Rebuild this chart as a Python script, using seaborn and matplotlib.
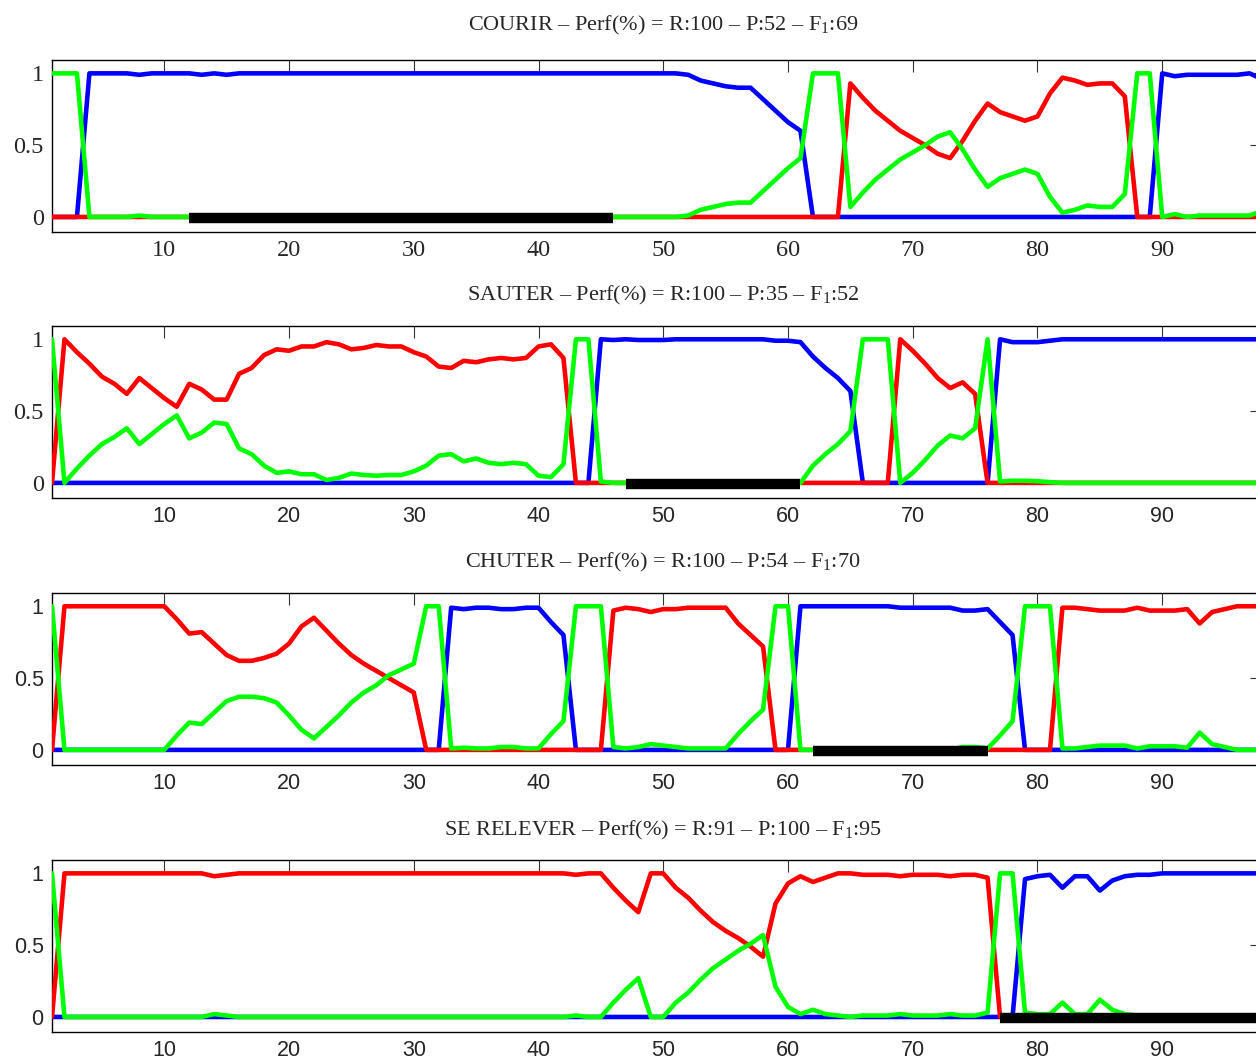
import numpy as np
import matplotlib
matplotlib.use("Agg")
import matplotlib.pyplot as plt
import seaborn as sns

frames = np.arange(1, 99)

titles = [
    "COURIR \u2013 Perf(%) = R:100 \u2013 P:52 \u2013 F$_1$:69",
    "SAUTER \u2013 Perf(%) = R:100 \u2013 P:35 \u2013 F$_1$:52",
    "CHUTER \u2013 Perf(%) = R:100 \u2013 P:54 \u2013 F$_1$:70",
    "SE RELEVER \u2013 Perf(%) = R:91 \u2013 P:100 \u2013 F$_1$:95",
]

# ground-truth segments (black bars)
bar_start = [12, 47, 62, 77]
bar_end = [46, 61, 76, 98]

# --- COURIR
blue_courir = [
    0, 0, 0, 1, 1, 1, 1, 0.99, 1, 1,
    1, 1, 0.99, 1, 0.99, 1, 1, 1, 1, 1,
    1, 1, 1, 1, 1, 1, 1, 1, 1, 1,
    1, 1, 1, 1, 1, 1, 1, 1, 1, 1,
    1, 1, 1, 1, 1, 1, 1, 1, 1, 1,
    1, 0.99, 0.95, 0.93, 0.91, 0.90, 0.90, 0.82, 0.74, 0.66,
    0.60, 0, 0, 0, 0, 0, 0, 0, 0, 0,
    0, 0, 0, 0, 0, 0, 0, 0, 0, 0,
    0, 0, 0, 0, 0, 0, 0, 0, 0, 1.0,
    0.98, 0.99, 0.99, 0.99, 0.99, 0.99, 1.0, 0.96,
]
red_courir = [
    0, 0, 0, 0, 0, 0, 0, 0, 0, 0,
    0, 0, 0, 0, 0, 0, 0, 0, 0, 0,
    0, 0, 0, 0, 0, 0, 0, 0, 0, 0,
    0, 0, 0, 0, 0, 0, 0, 0, 0, 0,
    0, 0, 0, 0, 0, 0, 0, 0, 0, 0,
    0, 0, 0, 0, 0, 0, 0, 0, 0, 0,
    0, 0, 0, 0, 0.93, 0.83, 0.74, 0.67, 0.60, 0.55,
    0.50, 0.44, 0.41, 0.53, 0.67, 0.79, 0.73, 0.70, 0.67, 0.70,
    0.86, 0.97, 0.95, 0.92, 0.93, 0.93, 0.84, 0, 0, 0,
    0, 0, 0, 0, 0, 0, 0, 0,
]
green_courir = [
    1, 1, 1, 0, 0, 0, 0, 0.01, 0, 0,
    0, 0, 0.01, 0, 0.01, 0, 0, 0, 0, 0,
    0, 0, 0, 0, 0, 0, 0, 0, 0, 0,
    0, 0, 0, 0, 0, 0, 0, 0, 0, 0,
    0, 0, 0, 0, 0, 0, 0, 0, 0, 0,
    0, 0.01, 0.05, 0.07, 0.09, 0.10, 0.10, 0.18, 0.26, 0.34,
    0.41, 1, 1, 1, 0.07, 0.17, 0.26, 0.33, 0.40, 0.45,
    0.50, 0.56, 0.59, 0.47, 0.33, 0.21, 0.27, 0.30, 0.33, 0.30,
    0.14, 0.03, 0.05, 0.08, 0.07, 0.07, 0.16, 1, 1, 0,
    0.02, 0, 0.01, 0.01, 0.01, 0.01, 0.01, 0.04,
]

# --- SAUTER
blue_sauter = [
    0, 0, 0, 0, 0, 0, 0, 0, 0, 0,
    0, 0, 0, 0, 0, 0, 0, 0, 0, 0,
    0, 0, 0, 0, 0, 0, 0, 0, 0, 0,
    0, 0, 0, 0, 0, 0, 0, 0, 0, 0,
    0, 0, 0, 0, 1.0, 0.995, 1.0, 0.995, 0.995, 0.995,
    1, 1, 1, 1, 1, 1, 1, 1, 0.99, 0.99,
    0.98, 0.88, 0.80, 0.73, 0.64, 0, 0, 0, 0, 0,
    0, 0, 0, 0, 0, 0, 1.0, 0.98, 0.98, 0.98,
    0.99, 1, 1, 1, 1, 1, 1, 1, 1, 1,
    1, 1, 1, 1, 1, 1, 1, 1,
]
red_sauter = [
    0, 1.0, 0.91, 0.83, 0.74, 0.69, 0.62, 0.73, 0.66, 0.59,
    0.53, 0.69, 0.65, 0.58, 0.58, 0.76, 0.80, 0.89, 0.93, 0.92,
    0.95, 0.95, 0.98, 0.965, 0.93, 0.94, 0.96, 0.95, 0.95, 0.91,
    0.88, 0.81, 0.80, 0.85, 0.84, 0.86, 0.87, 0.86, 0.87, 0.95,
    0.965, 0.87, 0, 0, 0, 0, 0, 0, 0, 0,
    0, 0, 0, 0, 0, 0, 0, 0, 0, 0,
    0, 0, 0, 0, 0, 0, 0, 0, 1.0, 0.92,
    0.83, 0.73, 0.66, 0.70, 0.62, 0, 0, 0, 0, 0,
    0, 0, 0, 0, 0, 0, 0, 0, 0, 0,
    0, 0, 0, 0, 0, 0, 0, 0,
]
green_sauter = [
    1.0, 0, 0.10, 0.19, 0.27, 0.32, 0.38, 0.27, 0.34, 0.41,
    0.47, 0.31, 0.35, 0.42, 0.41, 0.24, 0.20, 0.12, 0.07, 0.08,
    0.06, 0.06, 0.02, 0.035, 0.065, 0.055, 0.05, 0.055, 0.055, 0.08,
    0.12, 0.19, 0.20, 0.15, 0.17, 0.14, 0.13, 0.14, 0.13, 0.05,
    0.04, 0.13, 1.0, 1.0, 0.01, 0, 0, 0, 0, 0,
    0, 0, 0, 0, 0, 0, 0, 0, 0, 0,
    0, 0.12, 0.20, 0.27, 0.36, 1.0, 1.0, 1.0, 0, 0.07,
    0.16, 0.26, 0.33, 0.31, 0.38, 1.0, 0.01, 0.015, 0.015, 0.012,
    0.005, 0, 0, 0, 0, 0, 0, 0, 0, 0,
    0, 0, 0, 0, 0, 0, 0, 0,
]

# --- CHUTER
blue_chuter = [
    0, 0, 0, 0, 0, 0, 0, 0, 0, 0,
    0, 0, 0, 0, 0, 0, 0, 0, 0, 0,
    0, 0, 0, 0, 0, 0, 0, 0, 0, 0,
    0, 0, 0.99, 0.98, 0.99, 0.99, 0.98, 0.98, 0.99, 0.99,
    0.89, 0.80, 0, 0, 0, 0, 0, 0, 0, 0,
    0, 0, 0, 0, 0, 0, 0, 0, 0, 0,
    1, 1, 1, 1, 1, 1, 1, 1, 0.99, 0.99,
    0.99, 0.99, 0.99, 0.97, 0.97, 0.98, 0.89, 0.80, 0, 0,
    0, 0, 0, 0, 0, 0, 0, 0, 0, 0,
    0, 0, 0, 0, 0, 0, 0, 0,
]
red_chuter = [
    0, 1, 1, 1, 1, 1, 1, 1, 1, 1,
    0.91, 0.81, 0.82, 0.74, 0.66, 0.62, 0.62, 0.64, 0.67, 0.74,
    0.86, 0.92, 0.83, 0.74, 0.66, 0.60, 0.55, 0.50, 0.45, 0.40,
    0, 0, 0, 0, 0, 0, 0, 0, 0, 0,
    0, 0, 0, 0, 0, 0.97, 0.99, 0.98, 0.96, 0.98,
    0.98, 0.99, 0.99, 0.99, 0.99, 0.88, 0.80, 0.72, 0, 0,
    0, 0, 0, 0, 0, 0, 0, 0, 0, 0,
    0, 0, 0, 0, 0, 0, 0, 0, 0, 0,
    0, 0.99, 0.99, 0.98, 0.97, 0.97, 0.97, 0.99, 0.97, 0.97,
    0.97, 0.98, 0.88, 0.96, 0.98, 1, 1, 1,
]
green_chuter = [
    1, 0, 0, 0, 0, 0, 0, 0, 0, 0,
    0.10, 0.19, 0.18, 0.26, 0.34, 0.37, 0.37, 0.36, 0.33, 0.24,
    0.14, 0.08, 0.16, 0.24, 0.33, 0.40, 0.45, 0.52, 0.56, 0.60,
    1, 1, 0.01, 0.015, 0.01, 0.01, 0.02, 0.02, 0.01, 0.01,
    0.11, 0.20, 1, 1, 1, 0.02, 0.01, 0.02, 0.04, 0.03,
    0.02, 0.01, 0.01, 0.01, 0.01, 0.11, 0.20, 0.28, 1, 1,
    0, 0, 0, 0, 0, 0, 0, 0, 0, 0,
    0, 0, 0, 0.02, 0.02, 0.01, 0.10, 0.20, 1, 1,
    1, 0.01, 0.01, 0.02, 0.03, 0.03, 0.03, 0.01, 0.025, 0.025,
    0.025, 0.015, 0.12, 0.04, 0.02, 0, 0, 0,
]

# --- SE RELEVER
blue_relever = [
    0, 0, 0, 0, 0, 0, 0, 0, 0, 0,
    0, 0, 0, 0, 0, 0, 0, 0, 0, 0,
    0, 0, 0, 0, 0, 0, 0, 0, 0, 0,
    0, 0, 0, 0, 0, 0, 0, 0, 0, 0,
    0, 0, 0, 0, 0, 0, 0, 0, 0, 0,
    0, 0, 0, 0, 0, 0, 0, 0, 0, 0,
    0, 0, 0, 0, 0, 0, 0, 0, 0, 0,
    0, 0, 0, 0, 0, 0, 0, 0, 0.96, 0.98,
    0.99, 0.90, 0.98, 0.98, 0.88, 0.95, 0.98, 0.99, 0.99, 1,
    1, 1, 1, 1, 1, 1, 1, 1,
]
red_relever = [
    0, 1, 1, 1, 1, 1, 1, 1, 1, 1,
    1, 1, 1, 0.98, 0.99, 1, 1, 1, 1, 1,
    1, 1, 1, 1, 1, 1, 1, 1, 1, 1,
    1, 1, 1, 1, 1, 1, 1, 1, 1, 1,
    1, 1, 0.99, 1, 1, 0.90, 0.81, 0.73, 1, 1,
    0.90, 0.83, 0.74, 0.66, 0.60, 0.55, 0.49, 0.42, 0.79, 0.93,
    0.98, 0.94, 0.97, 1, 1, 0.99, 0.99, 0.99, 0.98, 0.99,
    0.99, 0.99, 0.98, 0.99, 0.99, 0.97, 0, 0, 0, 0,
    0, 0, 0, 0, 0, 0, 0, 0, 0, 0,
    0, 0, 0, 0, 0, 0, 0, 0,
]
green_relever = [
    1, 0, 0, 0, 0, 0, 0, 0, 0, 0,
    0, 0, 0, 0.02, 0.01, 0, 0, 0, 0, 0,
    0, 0, 0, 0, 0, 0, 0, 0, 0, 0,
    0, 0, 0, 0, 0, 0, 0, 0, 0, 0,
    0, 0, 0.01, 0, 0, 0.10, 0.19, 0.27, 0, 0,
    0.10, 0.17, 0.26, 0.34, 0.40, 0.46, 0.51, 0.57, 0.21, 0.07,
    0.02, 0.05, 0.02, 0.01, 0, 0.01, 0.01, 0.01, 0.02, 0.01,
    0.01, 0.01, 0.02, 0.01, 0.01, 0.03, 1, 1, 0.03, 0.02,
    0.02, 0.10, 0.02, 0.02, 0.12, 0.05, 0.02, 0.01, 0, 0,
    0, 0, 0, 0, 0, 0, 0, 0,
]

blues = [blue_courir, blue_sauter, blue_chuter, blue_relever]
reds = [red_courir, red_sauter, red_chuter, red_relever]
greens = [green_courir, green_sauter, green_chuter, green_relever]

serif = "Liberation Serif"
sans = "Liberation Sans"
# (y tick font, x tick font) per panel
tick_fonts = [(serif, serif), (serif, sans), (sans, sans), (sans, sans)]
font_size = {serif: 17.5, sans: 15.5}
title_pads = [21, 18, 18, 18]

sns.set_style("white")
plt.rcParams["font.family"] = [serif, "DejaVu Serif"]
plt.rcParams["mathtext.fontset"] = "custom"
plt.rcParams["mathtext.rm"] = serif
plt.rcParams["mathtext.it"] = serif + ":italic"

fig = plt.figure(figsize=(12.56, 10.62), dpi=100)

bottoms = [0.7815, 0.5311, 0.2797, 0.0282]
for i in range(4):
    ax = fig.add_axes([0.0414, bottoms[i], 0.9634, 0.162])
    sns.lineplot(x=frames, y=blues[i], color=(0, 0, 1), linewidth=3.3, ax=ax, zorder=2)
    sns.lineplot(x=frames, y=reds[i], color=(1, 0, 0), linewidth=3.3, ax=ax, zorder=3)
    sns.lineplot(x=frames, y=greens[i], color=(0, 1, 0), linewidth=3.3, ax=ax, zorder=4)
    ax.plot([bar_start[i], bar_end[i]], [-0.01, -0.01], color="black", linewidth=7.5,
            solid_capstyle="butt", zorder=5)

    ax.set_xlim(1, 98)
    ax.set_ylim(-0.105, 1.093)
    ax.set_xticks(range(10, 100, 10))
    ax.set_yticks([0, 0.5, 1])
    ax.set_yticklabels(["0", "0.5", "1"])
    ax.tick_params(axis="both", direction="in", length=8.5, width=0.8, color="#333333",
                   top=True, right=True, pad=6)
    yfont, xfont = tick_fonts[i]
    for lab in ax.get_yticklabels():
        lab.set_fontfamily(yfont)
        lab.set_fontsize(font_size[yfont])
    for lab in ax.get_xticklabels():
        lab.set_fontfamily(xfont)
        lab.set_fontsize(font_size[xfont])
    for sp in ax.spines.values():
        sp.set_color("black")
        sp.set_linewidth(1.0)
    ax.set_xlabel("")
    ax.set_ylabel("")
    ax.set_title(titles[i], fontsize=16, pad=title_pads[i], x=0.505)

fig.savefig("out.png", dpi=100)
